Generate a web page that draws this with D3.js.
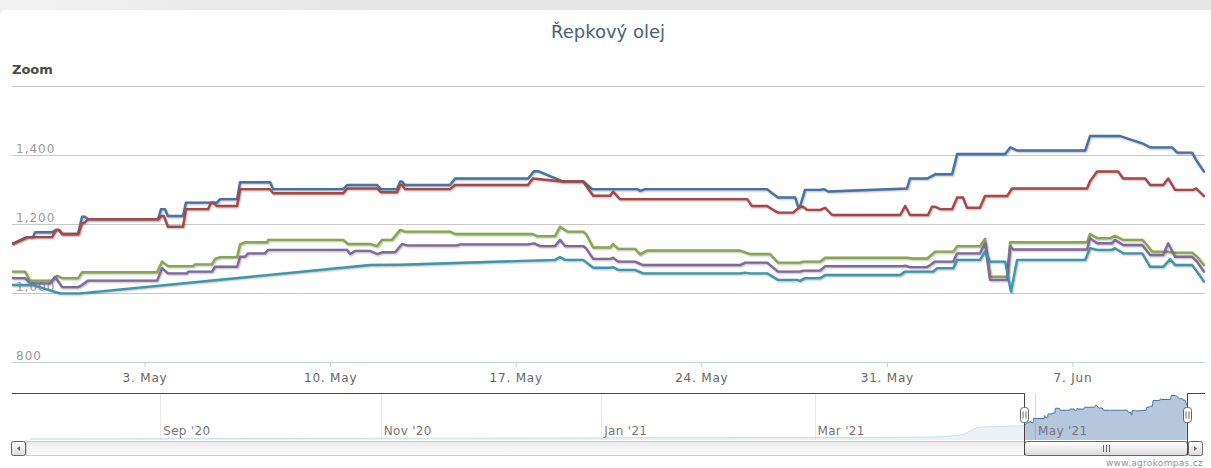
<!DOCTYPE html>
<html>
<head>
<meta charset="utf-8">
<script src="https://cdn.jsdelivr.net/npm/d3@7"></script>
<style>
  html, body { margin: 0; padding: 0; background: #fff; }
  svg { display: block; font-family: "DejaVu Sans", sans-serif; }
</style>
</head>
<body>
<div id="chart"></div>
<script>
// Prices (EUR/t), x = days since 28 Apr 2021 00:00
var blueLine = [[0,1142],[0.57,1162],[0.79,1162],[0.87,1176],[1.51,1176],[1.66,1183],[1.77,1183],[1.89,1171],[2.49,1171],[2.64,1221],[2.75,1221],[2.87,1214],[5.51,1214],[5.62,1243],[5.77,1243],[5.88,1223],[6.45,1223],[6.56,1262],[7.73,1262],[7.85,1272],[8.49,1272],[8.60,1321],[9.73,1321],[9.85,1301],[12.49,1301],[12.64,1313],[13.77,1313],[13.92,1301],[14.52,1301],[14.64,1323],[14.71,1323],[14.82,1313],[16.52,1313],[16.71,1332],[19.46,1332],[19.69,1353],[19.84,1353],[20.75,1324],[21.54,1324],[21.88,1301],[23.58,1301],[23.69,1296],[23.88,1301],[28.48,1301],[28.67,1289],[28.89,1277],[29.54,1277],[29.65,1250],[29.72,1250],[29.91,1299],[30.48,1299],[30.63,1301],[30.78,1294],[33.76,1303],[33.87,1332],[34.52,1332],[34.82,1344],[35.46,1344],[35.65,1403],[37.46,1403],[37.65,1422],[37.91,1413],[40.48,1413],[40.66,1455],[41.80,1455],[42.63,1434],[42.93,1422],[43.76,1422],[43.95,1407],[44.51,1407],[44.70,1381],[44.96,1352]];

var redLine = [[0,1142],[0.57,1162],[1.51,1162],[1.66,1183],[1.77,1183],[1.89,1171],[2.49,1171],[2.64,1202],[2.75,1205],[2.87,1214],[5.51,1214],[5.62,1223],[5.73,1223],[5.88,1192],[6.45,1192],[6.56,1243],[7.39,1243],[7.51,1262],[7.58,1262],[7.73,1252],[8.49,1252],[8.60,1301],[9.73,1301],[9.85,1289],[12.49,1289],[12.64,1303],[13.77,1303],[13.92,1292],[14.52,1292],[14.64,1313],[14.71,1313],[14.82,1301],[16.52,1301],[16.71,1313],[19.46,1313],[19.65,1332],[20.75,1323],[21.54,1323],[21.92,1282],[22.56,1282],[22.67,1294],[22.93,1272],[27.73,1272],[27.91,1252],[28.48,1252],[28.67,1243],[28.89,1233],[29.46,1233],[29.72,1250],[29.84,1250],[29.99,1241],[30.48,1241],[30.67,1247],[30.93,1226],[33.50,1226],[33.69,1252],[33.87,1226],[34.55,1226],[34.70,1250],[34.82,1250],[35.01,1243],[35.46,1243],[35.65,1277],[35.87,1277],[36.02,1247],[36.51,1247],[36.70,1281],[37.53,1281],[37.72,1303],[40.55,1303],[40.66,1324],[40.93,1352],[41.72,1352],[41.91,1332],[42.74,1332],[42.93,1313],[43.42,1313],[43.61,1332],[43.87,1299],[44.55,1299],[44.66,1303],[44.96,1281]];

var greenLine = [[0,1062],[0.49,1062],[0.68,1036],[1.51,1036],[1.70,1050],[1.89,1043],[2.49,1043],[2.64,1060],[5.47,1060],[5.66,1091],[5.88,1078],[6.83,1078],[6.90,1083],[7.54,1083],[7.66,1099],[7.85,1104],[8.49,1104],[8.60,1141],[8.79,1147],[9.62,1147],[9.66,1154],[12.49,1154],[12.67,1142],[13.50,1142],[13.77,1136],[13.96,1154],[14.33,1154],[14.64,1183],[14.82,1178],[16.52,1178],[16.71,1171],[19.65,1171],[19.80,1165],[20.48,1165],[20.67,1192],[20.94,1178],[21.54,1178],[21.65,1171],[21.92,1132],[22.56,1132],[22.67,1142],[22.86,1128],[23.50,1128],[23.69,1112],[23.95,1123],[27.46,1123],[27.84,1113],[28.59,1113],[28.89,1088],[29.72,1088],[29.84,1091],[30.48,1091],[30.67,1102],[33.76,1102],[33.95,1100],[34.52,1100],[34.82,1120],[35.50,1120],[35.65,1136],[36.51,1136],[36.70,1157],[36.89,1047],[37.53,1047],[37.65,1147],[40.55,1147],[40.66,1171],[40.93,1159],[41.42,1159],[41.60,1166],[41.91,1154],[42.63,1154],[42.81,1139],[43.00,1120],[43.57,1120],[43.76,1117],[44.51,1117],[44.70,1105],[44.96,1081]];

var purpleLine = [[0,1043],[0.49,1043],[0.68,1028],[1.43,1028],[1.62,1047],[1.89,1017],[2.49,1017],[2.64,1023],[2.87,1036],[5.47,1036],[5.66,1072],[5.88,1057],[6.60,1057],[6.64,1062],[7.54,1062],[7.66,1076],[8.49,1076],[8.60,1105],[8.79,1105],[8.90,1115],[9.54,1115],[9.66,1125],[12.64,1125],[12.75,1113],[12.94,1122],[13.50,1122],[13.77,1113],[13.96,1118],[14.45,1118],[14.71,1142],[14.90,1138],[16.79,1138],[16.90,1141],[19.46,1141],[19.69,1144],[19.92,1136],[20.48,1136],[20.67,1154],[20.86,1136],[21.54,1136],[21.65,1130],[21.92,1099],[22.56,1099],[22.67,1102],[22.86,1091],[23.50,1091],[23.80,1081],[27.46,1081],[27.65,1088],[28.48,1088],[28.89,1062],[29.72,1062],[29.84,1065],[30.48,1065],[30.67,1078],[33.61,1078],[33.69,1079],[33.87,1075],[34.52,1075],[34.82,1091],[35.50,1091],[35.65,1115],[36.51,1115],[36.70,1144],[36.89,1038],[37.53,1038],[37.65,1136],[37.76,1126],[40.55,1126],[40.66,1159],[40.93,1144],[41.49,1144],[41.60,1154],[41.91,1139],[42.63,1139],[42.93,1110],[43.42,1110],[43.61,1144],[43.87,1105],[44.51,1105],[44.70,1091],[44.96,1062]];

var tealLine = [[0,1023],[0.79,1023],[1.81,999],[2.57,999],[13.50,1081],[14.64,1082],[20.48,1096],[20.67,1104],[20.86,1096],[21.54,1096],[21.92,1073],[22.56,1073],[22.67,1075],[22.86,1067],[23.50,1067],[23.80,1057],[27.46,1057],[27.65,1059],[27.84,1057],[28.48,1057],[28.89,1038],[29.61,1038],[29.72,1035],[29.91,1043],[30.48,1043],[30.67,1052],[33.50,1052],[33.69,1062],[34.74,1062],[34.89,1072],[35.50,1072],[35.65,1096],[36.51,1096],[36.70,1120],[36.89,1091],[37.46,1091],[37.68,1004],[37.91,1096],[40.48,1096],[40.66,1130],[40.93,1125],[41.49,1125],[41.60,1130],[41.91,1115],[42.63,1115],[42.93,1076],[43.42,1076],[43.69,1098],[43.87,1081],[44.51,1081],[44.70,1062],[44.96,1033]];

// longer history of the first series, shown only in the navigator
var navHistory = [["2020-07-27",1000],["2020-09-01",1003],["2020-10-01",1006],["2020-11-01",1008],["2020-12-01",1010],["2021-01-01",1012],["2021-02-01",1014],["2021-03-01",1016],["2021-04-01",1020],["2021-04-10",1040],["2021-04-16",1125],["2021-04-27",1138]];

var seriesColors = ["#4572A7", "#AA4643", "#89A54E", "#80699B", "#3D96AE"];
var yTicks = [800, 1000, 1200, 1400, 1600];
var xTickDates = ["2021-05-03", "2021-05-10", "2021-05-17", "2021-05-24", "2021-05-31", "2021-06-07"];
var navTickDates = ["2020-09-01", "2020-11-01", "2021-01-01", "2021-03-01", "2021-05-01"];

var parseDate = d3.timeParse("%Y-%m-%d");
var viewStart = new Date(2021, 3, 28);
var viewEnd = new Date(2021, 5, 12);
function toDate(day) { return new Date(viewStart.getTime() + day * 864e5); }

var svgWidth = 1211, svgHeight = 468;
var plotLeft = 12, plotRight = 1205, plotTop = 86, plotBottom = 362;
var navTop = 393, navBottom = 440, scrollTop = 441, scrollH = 14;

var svg = d3.select("#chart").append("svg")
  .attr("width", svgWidth)
  .attr("height", svgHeight);

var defs = svg.append("defs");
var g1 = defs.append("linearGradient").attr("id", "barGrad").attr("x1", 0).attr("y1", 0).attr("x2", 0).attr("y2", 1);
g1.append("stop").attr("offset", "0%").attr("stop-color", "#ffffff");
g1.append("stop").attr("offset", "100%").attr("stop-color", "#dcdcdc");
var g2 = defs.append("linearGradient").attr("id", "trackGrad").attr("x1", 0).attr("y1", 0).attr("x2", 0).attr("y2", 1);
g2.append("stop").attr("offset", "0%").attr("stop-color", "#ebebeb");
g2.append("stop").attr("offset", "100%").attr("stop-color", "#ffffff");
var g3 = defs.append("linearGradient").attr("id", "topGrad").attr("x1", 0).attr("y1", 0).attr("x2", 1).attr("y2", 0);
g3.append("stop").attr("offset", "0%").attr("stop-color", "#f2f2f2");
g3.append("stop").attr("offset", "30%").attr("stop-color", "#e6e6e6");
g3.append("stop").attr("offset", "100%").attr("stop-color", "#e6e6e6");
defs.append("clipPath").attr("id", "plotClip").append("rect")
  .attr("x", plotLeft).attr("y", plotTop - 10)
  .attr("width", plotRight - plotLeft).attr("height", plotBottom - plotTop + 10);

// page background
svg.append("rect").attr("width", svgWidth).attr("height", svgHeight).attr("fill", "url(#topGrad)");
svg.append("rect").attr("x", 0).attr("y", 10).attr("width", svgWidth + 20).attr("height", svgHeight)
  .attr("rx", 6).attr("fill", "#ffffff");

// title and range selector label
svg.append("text")
  .attr("x", 608).attr("y", 38)
  .attr("text-anchor", "middle")
  .attr("font-size", "18px")
  .attr("fill", "#4a6079")
  .text("Řepkový olej");

svg.append("text")
  .attr("x", 12).attr("y", 74)
  .attr("font-size", "13px")
  .attr("font-weight", "bold")
  .attr("fill", "#4a4a4a")
  .text("Zoom");

// scales
var x = d3.scaleTime().domain([viewStart, viewEnd]).range([plotLeft, plotRight]);
var y = d3.scaleLinear().domain([800, 1600]).range([plotBottom, plotTop]);

// y grid + labels
var leftAxis = d3.axisRight(y)
  .tickValues(yTicks)
  .tickSize(plotRight - plotLeft)
  .tickFormat(function(d) { return d === 1600 ? "" : d3.format(",")(d); });

var yAxisGroup = svg.append("g")
  .attr("transform", "translate(" + plotLeft + ",0)")
  .call(leftAxis);
yAxisGroup.select(".domain").remove();
yAxisGroup.selectAll("line").attr("stroke", "#c8c8c8");
yAxisGroup.selectAll("text")
  .attr("x", 4).attr("y", -3).attr("dy", null)
  .attr("text-anchor", "start")
  .attr("font-size", "12px")
  .attr("letter-spacing", "1px")
  .attr("fill", "#999")
  .attr("font-family", "DejaVu Sans, sans-serif");

// x axis
var bottomAxis = d3.axisBottom(x)
  .tickValues(xTickDates.map(parseDate))
  .tickSize(5)
  .tickSizeOuter(0)
  .tickFormat(d3.timeFormat("%-d. %b"));

var xAxisGroup = svg.append("g")
  .attr("transform", "translate(0," + plotBottom + ")")
  .call(bottomAxis);
xAxisGroup.select(".domain").attr("stroke", "#C0D0E0");
xAxisGroup.selectAll("line").attr("stroke", "#C0D0E0");
xAxisGroup.selectAll("text")
  .attr("y", 20).attr("dy", null)
  .attr("font-size", "12px")
  .attr("letter-spacing", "0.8px")
  .attr("fill", "#666")
  .attr("font-family", "DejaVu Sans, sans-serif");

// series
var allSeries = [blueLine, redLine, greenLine, purpleLine, tealLine];
var drawLine = d3.line()
  .x(function(d) { return x(toDate(d[0])); })
  .y(function(d) { return y(d[1]); });

var linesGroup = svg.append("g").attr("clip-path", "url(#plotClip)");
allSeries.forEach(function(data, i) {
  var sg = linesGroup.append("g");
  // soft shadow like the original
  [1, 2, 3].forEach(function(k) {
    sg.append("path")
      .attr("d", drawLine(data))
      .attr("fill", "none")
      .attr("stroke", "#000")
      .attr("stroke-opacity", 0.05 * k)
      .attr("stroke-width", 7 - 2 * k)
      .attr("stroke-linejoin", "round")
      .attr("transform", "translate(1,1)");
  });
  sg.append("path")
    .attr("d", drawLine(data))
    .attr("fill", "none")
    .attr("stroke", seriesColors[i])
    .attr("stroke-width", 2.4)
    .attr("stroke-linejoin", "round")
    .attr("stroke-linecap", "round");
});

// navigator
var nx = d3.scaleTime().domain([new Date(2020, 6, 22), new Date(2021, 5, 17)]).range([plotLeft, plotRight]);
var ny = d3.scaleLinear().domain([990, 1460]).range([navBottom, 395]);

var navData = navHistory.map(function(d) { return [parseDate(d[0]), d[1]]; })
  .concat(blueLine.map(function(d) { return [toDate(d[0]), d[1]]; }));

var navGroup = svg.append("g");
var navTicks = navTickDates.map(parseDate);
navTicks.forEach(function(d) {
  navGroup.append("line")
    .attr("x1", Math.round(nx(d)) + 0.5).attr("x2", Math.round(nx(d)) + 0.5)
    .attr("y1", navTop).attr("y2", navBottom)
    .attr("stroke", "#e6e6e6");
});

var navArea = d3.area()
  .x(function(d) { return nx(d[0]); })
  .y0(navBottom)
  .y1(function(d) { return ny(d[1]); })
  .curve(d3.curveMonotoneX);
var navLine = d3.line()
  .x(function(d) { return nx(d[0]); })
  .y(function(d) { return ny(d[1]); })
  .curve(d3.curveMonotoneX);

navGroup.append("path").attr("d", navArea(navData)).attr("fill", "#4572A7").attr("fill-opacity", 0.4);
navGroup.append("path").attr("d", navLine(navData)).attr("fill", "none").attr("stroke", "#4572A7").attr("stroke-width", 1);

var selA = Math.round(nx(viewStart)), selB = Math.round(nx(viewEnd));
navGroup.append("rect").attr("x", plotLeft).attr("y", navTop).attr("width", selA - plotLeft).attr("height", navBottom - navTop)
  .attr("fill", "#fff").attr("fill-opacity", 0.75);
navGroup.append("rect").attr("x", selB).attr("y", navTop).attr("width", plotRight - selB).attr("height", navBottom - navTop)
  .attr("fill", "#fff").attr("fill-opacity", 0.75);

navTicks.forEach(function(d) {
  navGroup.append("line")
    .attr("x1", Math.round(nx(d)) + 0.5).attr("x2", Math.round(nx(d)) + 0.5)
    .attr("y1", navTop).attr("y2", navBottom)
    .attr("stroke", "#888").attr("stroke-opacity", 0.15);
  navGroup.append("text")
    .attr("x", nx(d) + 3).attr("y", 435)
    .attr("font-size", "12px")
    .attr("letter-spacing", "0.3px")
    .attr("fill", "#777")
    .text(d3.timeFormat("%b '%y")(d));
});

// scrollbar
var sb = svg.append("g");
sb.append("rect").attr("x", 26.5).attr("y", scrollTop + 0.5).attr("width", 1188 - 26.5).attr("height", scrollH)
  .attr("fill", "url(#trackGrad)").attr("stroke", "#ccc");
sb.append("rect").attr("x", selA + 0.5).attr("y", scrollTop + 0.5).attr("width", selB - selA).attr("height", scrollH)
  .attr("rx", 3).attr("fill", "url(#barGrad)").attr("stroke", "#666");
[-3, 0, 3].forEach(function(dx) {
  var cx = Math.round((selA + selB) / 2) + dx + 0.5;
  sb.append("line").attr("x1", cx).attr("x2", cx).attr("y1", scrollTop + 4).attr("y2", scrollTop + 11).attr("stroke", "#666");
});
[[11.5, -1], [1188.5, 1]].forEach(function(b) {
  sb.append("rect").attr("x", b[0]).attr("y", scrollTop + 0.5).attr("width", 14).attr("height", scrollH)
    .attr("rx", 2).attr("fill", "url(#barGrad)").attr("stroke", "#666");
  var cx = b[0] + 7, cy = scrollTop + 7.5;
  sb.append("path")
    .attr("d", "M" + (cx - 1.5 * b[1]) + "," + (cy - 2.5) + "L" + (cx + 1.5 * b[1]) + "," + cy + "L" + (cx - 1.5 * b[1]) + "," + (cy + 2.5) + "Z")
    .attr("fill", "#666");
});

// navigator outline
svg.append("path")
  .attr("d", "M" + plotLeft + "," + (navTop + 0.5) + "H" + (selA + 0.5) + "V" + (scrollTop + scrollH) +
             "M" + (selB + 0.5) + "," + (scrollTop + scrollH) + "V" + (navTop + 0.5) + "H" + plotRight)
  .attr("fill", "none").attr("stroke", "#444");

// handles
[selA, selB].forEach(function(hx) {
  var hg = svg.append("g").attr("transform", "translate(" + (hx + 0.5) + ",407.5)");
  hg.append("rect").attr("x", -4).attr("y", 0).attr("width", 8).attr("height", 15).attr("rx", 3)
    .attr("fill", "#fff").attr("stroke", "#666");
  hg.append("line").attr("x1", -1.5).attr("x2", -1.5).attr("y1", 4).attr("y2", 11).attr("stroke", "#666");
  hg.append("line").attr("x1", 1.5).attr("x2", 1.5).attr("y1", 4).attr("y2", 11).attr("stroke", "#666");
});

// credits
svg.append("text")
  .attr("x", 1203).attr("y", 466)
  .attr("text-anchor", "end")
  .attr("font-size", "9px")
  .attr("letter-spacing", "0.3px")
  .attr("fill", "#909090")
  .text("www.agrokompas.cz");
</script>
</body>
</html>
